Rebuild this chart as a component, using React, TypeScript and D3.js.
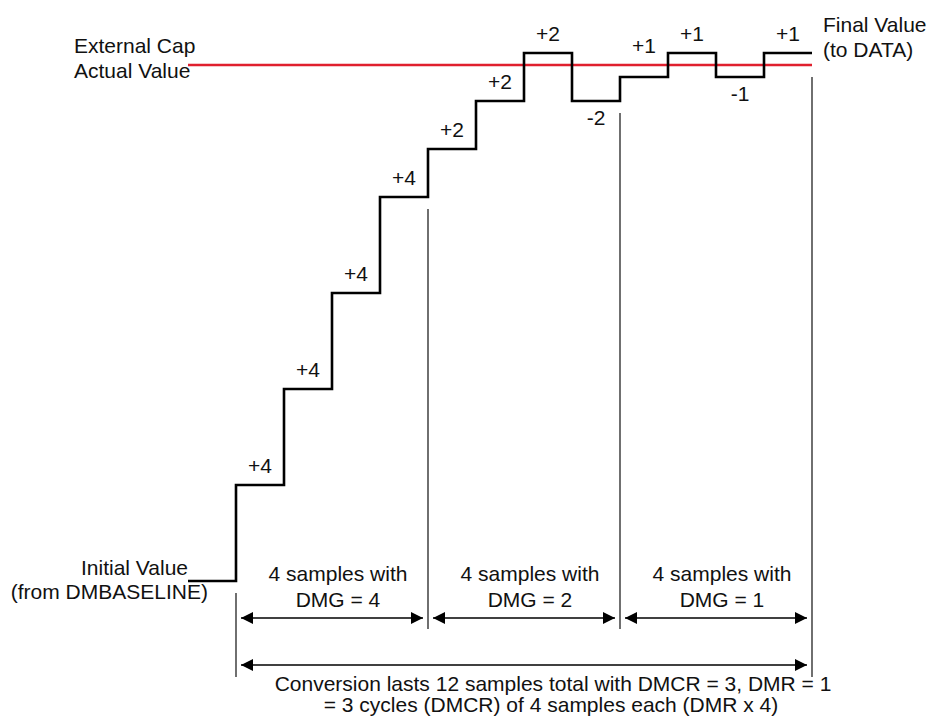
import React from "react";
import * as d3 from "d3";

// ---- data ----
const sampleIndex = [-1, 0, 1, 2, 3, 4, 5, 6, 7, 8, 9, 10, 11, 12];
const levels = [0, 0, 4, 8, 12, 16, 18, 20, 22, 20, 21, 22, 21, 22];
const stepLabels = ["+4", "+4", "+4", "+4", "+2", "+2", "+2", "-2", "+1", "+1", "-1", "+1"];
const capValue = 21.5;
const cycleGains = [4, 2, 1];
const samplesPerCycle = 4;
const totalSamples = 12;
const cycleBoundaries = [0, 4, 8, 12];
const leftTitle = ["External Cap", "Actual Value"];
const rightTitle = ["Final Value", "(to DATA)"];
const initTitle = ["Initial Value", "(from DMBASELINE)"];
const bottomText = [
  "Conversion lasts 12 samples total with DMCR = 3, DMR = 1",
  "= 3 cycles (DMCR) of 4 samples each (DMR x 4)",
];

const W = 928;
const H = 722;
const FONT = "Arial, 'Liberation Sans', Helvetica, sans-serif";
const FS = 21;

export default function App() {
  const x = d3.scaleLinear().domain([-1, 12]).range([188, 812]);
  const y = d3.scaleLinear().domain([0, 22]).range([581, 53]);

  const stairPts: [number, number][] = sampleIndex.map((s, i) => [x(s), y(levels[i])]);
  const stair = d3.line().curve(d3.curveStepBefore)(stairPts) || "";

  const capY = y(capValue);

  const labels = stepLabels.map((t, i) => {
    const lvl = levels[i + 2];
    const cx = (x(i) + x(i + 1)) / 2;
    const neg = t.startsWith("-");
    let by = neg ? y(lvl) + 24 : y(lvl) - 12;
    if (!neg && by > capY - 6 && by - 15 < capY + 2) by = capY - 12;
    return { t, cx, by };
  });

  const guides = cycleBoundaries.map((b, k) => {
    const before = levels[sampleIndex.indexOf(b)];
    const after = b < totalSamples ? levels[sampleIndex.indexOf(b) + 1] : before;
    const low = Math.min(before, after);
    const top = Math.max(y(low), capY) + 12;
    const outer = k === 0 || k === cycleBoundaries.length - 1;
    return { x: x(b), top, bottom: outer ? 677 : 629 };
  });

  const gap = 5;
  const row1 = 618;
  const row2 = 665;

  return (
    <div style={{ position: "absolute", left: 0, top: 0 }}>
      <svg width={W} height={H} style={{ display: "block" }} fontFamily={FONT}>
        <defs>
          <marker
            id="ah"
            viewBox="0 -6 12 12"
            refX={12}
            refY={0}
            markerWidth={12}
            markerHeight={12}
            markerUnits="userSpaceOnUse"
            orient="auto-start-reverse"
          >
            <path d="M0,-6L12,0L0,6Z" fill="#000" />
          </marker>
        </defs>
        <rect width={W} height={H} fill="#fff" />

        {guides.map((g, i) => (
          <line key={i} x1={g.x} x2={g.x} y1={g.top} y2={g.bottom} stroke="#222" strokeWidth={1.3} />
        ))}

        <line x1={x(-1)} x2={x(totalSamples)} y1={capY} y2={capY} stroke="#e0202e" strokeWidth={2.5} />

        <path d={stair} fill="none" stroke="#000" strokeWidth={2.6} strokeLinejoin="miter" />

        {labels.map((l, i) => (
          <text key={i} x={l.cx} y={l.by} textAnchor="middle" fontSize={FS} fill="#111">
            {l.t}
          </text>
        ))}

        {leftTitle.map((t, i) => (
          <text key={t} x={74} y={53 + i * 25} fontSize={FS} fill="#111">
            {t}
          </text>
        ))}
        {rightTitle.map((t, i) => (
          <text key={t} x={823} y={32 + i * 25} fontSize={FS} fill="#111">
            {t}
          </text>
        ))}
        <text x={188} y={575} textAnchor="end" fontSize={FS} fill="#111">
          {initTitle[0]}
        </text>
        <text x={208} y={599} textAnchor="end" fontSize={FS} fill="#111">
          {initTitle[1]}
        </text>

        {cycleGains.map((g, k) => {
          const x0 = x(k * samplesPerCycle);
          const x1 = x((k + 1) * samplesPerCycle);
          const cx = (x0 + x1) / 2 + 6;
          return (
            <g key={k}>
              <line
                x1={x0 + gap}
                x2={x1 - gap}
                y1={row1}
                y2={row1}
                stroke="#000"
                strokeWidth={1.4}
                markerStart="url(#ah)"
                markerEnd="url(#ah)"
              />
              <text x={cx} y={581} textAnchor="middle" fontSize={FS} fill="#111">
                {`${samplesPerCycle} samples with`}
              </text>
              <text x={cx} y={607} textAnchor="middle" fontSize={FS} fill="#111">
                {`DMG = ${g}`}
              </text>
            </g>
          );
        })}

        <line
          x1={x(0) + gap}
          x2={x(totalSamples) - gap}
          y1={row2}
          y2={row2}
          stroke="#000"
          strokeWidth={1.4}
          markerStart="url(#ah)"
          markerEnd="url(#ah)"
        />
        <text x={553} y={691} textAnchor="middle" fontSize={FS} fill="#111">
          {bottomText[0]}
        </text>
        <text x={551} y={712} textAnchor="middle" fontSize={FS} fill="#111">
          {bottomText[1]}
        </text>
      </svg>
    </div>
  );
}
